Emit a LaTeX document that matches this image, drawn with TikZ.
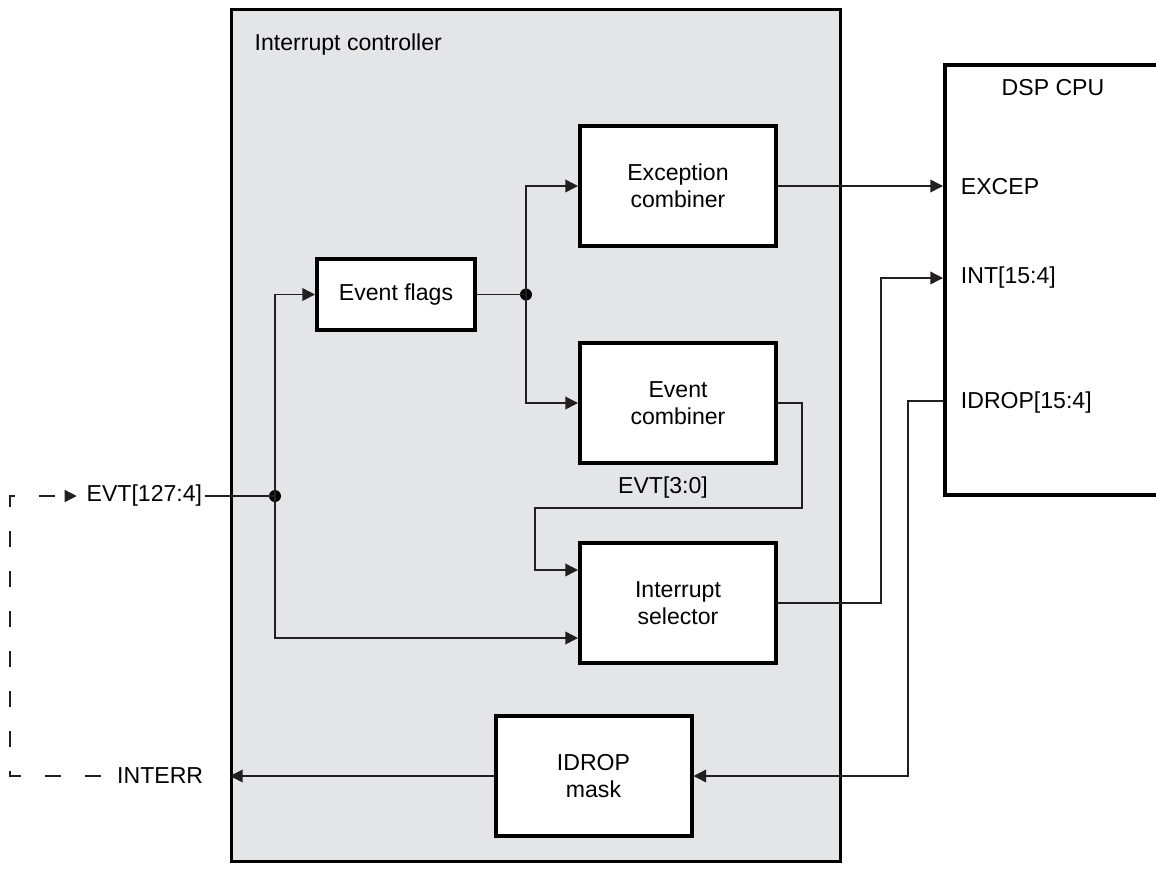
\documentclass[tikz,border=0pt]{standalone}
\usepackage{fontspec}
\setmainfont{Liberation Sans}
\usetikzlibrary{arrows.meta,calc}
\definecolor{ctrlgray}{RGB}{228,229,231}
\definecolor{linec}{RGB}{35,31,32}
\begin{document}
\begin{tikzpicture}[x=0.75pt,y=-0.75pt,
  font=\fontsize{17.3}{20}\selectfont,
  conn/.style={draw=linec,line width=1.1pt},
  arr/.style={conn,-{Triangle[length=9.5pt,width=9.5pt]}},
  blk/.style={draw=black,line width=3pt,fill=white,align=center,
    minimum width=147pt,minimum height=90pt,inner sep=0pt},
  dot/.style={circle,fill=black,inner sep=0pt,minimum size=9pt},
  lbl/.style={inner sep=2pt},
  dashline/.style={draw=linec,line width=1pt,dash pattern=on 12pt off 18pt,
    -{Triangle[length=9pt,width=9pt]}}]
\useasboundingbox (0,0) rectangle (1156,869);
\fill[white] (0,0) rectangle (1156,869);

% Interrupt controller
\node[draw=black,line width=2.25pt,fill=ctrlgray,minimum width=456.75pt,
  minimum height=639pt,inner sep=0pt] (ctrl) at (536,435.5) {};
\node[anchor=west] (ctrllabel) at (250,45) {Interrupt controller};

% DSP CPU
\begin{scope}
\clip (0,0) rectangle (1156,869);
\node[draw=black,line width=3pt,fill=white,minimum width=168.75pt,
  minimum height=322.5pt,inner sep=0pt] (cpu) at (1057.5,280) {};
\end{scope}
\node (cpulabel) at (1053,88) {DSP CPU};
\node[anchor=west,lbl] (excep) at (958,187) {EXCEP};
\node[anchor=west,lbl] (int) at (958,278) {INT[15:4]};
\node[anchor=west,lbl] (idrop) at (958,403) {IDROP[15:4]};

% Blocks
\node[blk,minimum width=118.5pt,minimum height=53pt] (flags) at (396,294.5) {Event flags};
\node[blk] (exc) at (678,186) {Exception\\combiner};
\node[blk] (evc) at (678,403) {Event\\combiner};
\node[blk] (sel) at (678,603) {Interrupt\\selector};
\node[blk] (mask) at (593.5,776) {IDROP\\mask};

% External labels
\node[anchor=east,lbl] (evt) at (205,496) {EVT[127:4]};
\node[anchor=east,lbl] (interr) at (206,776) {INTERR};
\node (evt30) at (663,488) {EVT[3:0]};

% Junctions
\node[dot] (j1) at (275,496) {};
\node[dot] (j2) at (526,294.5) {};

% Coordinates
\coordinate (l1) at (802,508);
\coordinate (l2) at (535,570);
\coordinate (intb) at (881,278);
\coordinate (idb) at (908,401);
\coordinate (dc1) at (10,776);
\coordinate (dc2) at (10,496);

% Connectors
\draw[conn] (evt.east) -- (j1.center);
\draw[arr] (j1.center) |- (flags.west);
\draw[arr] (j1.center) |- ($(sel.west)+(0,35)$);
\draw[conn] (flags.east) -- (j2.center);
\draw[arr] (j2.center) |- (exc.west);
\draw[arr] (j2.center) |- (evc.west);
\draw[arr] (exc.east) -- (exc.east -| cpu.west);
\draw[arr] (evc.east) -| (l1) -| (l2) -- (l2 -| sel.west);
\draw[arr] (sel.east) -| (intb) -- (intb -| cpu.west);
\draw[arr] (idb -| cpu.west) -- (idb) |- (mask.east);
\draw[arr] (mask.west) -- (mask.west -| ctrl.west);
\draw[dashline,shorten >=5.25pt] ($(interr.west)+(-13,0)$) -- (dc1) -- (dc2) -- (evt.west);
\end{tikzpicture}
\end{document}
